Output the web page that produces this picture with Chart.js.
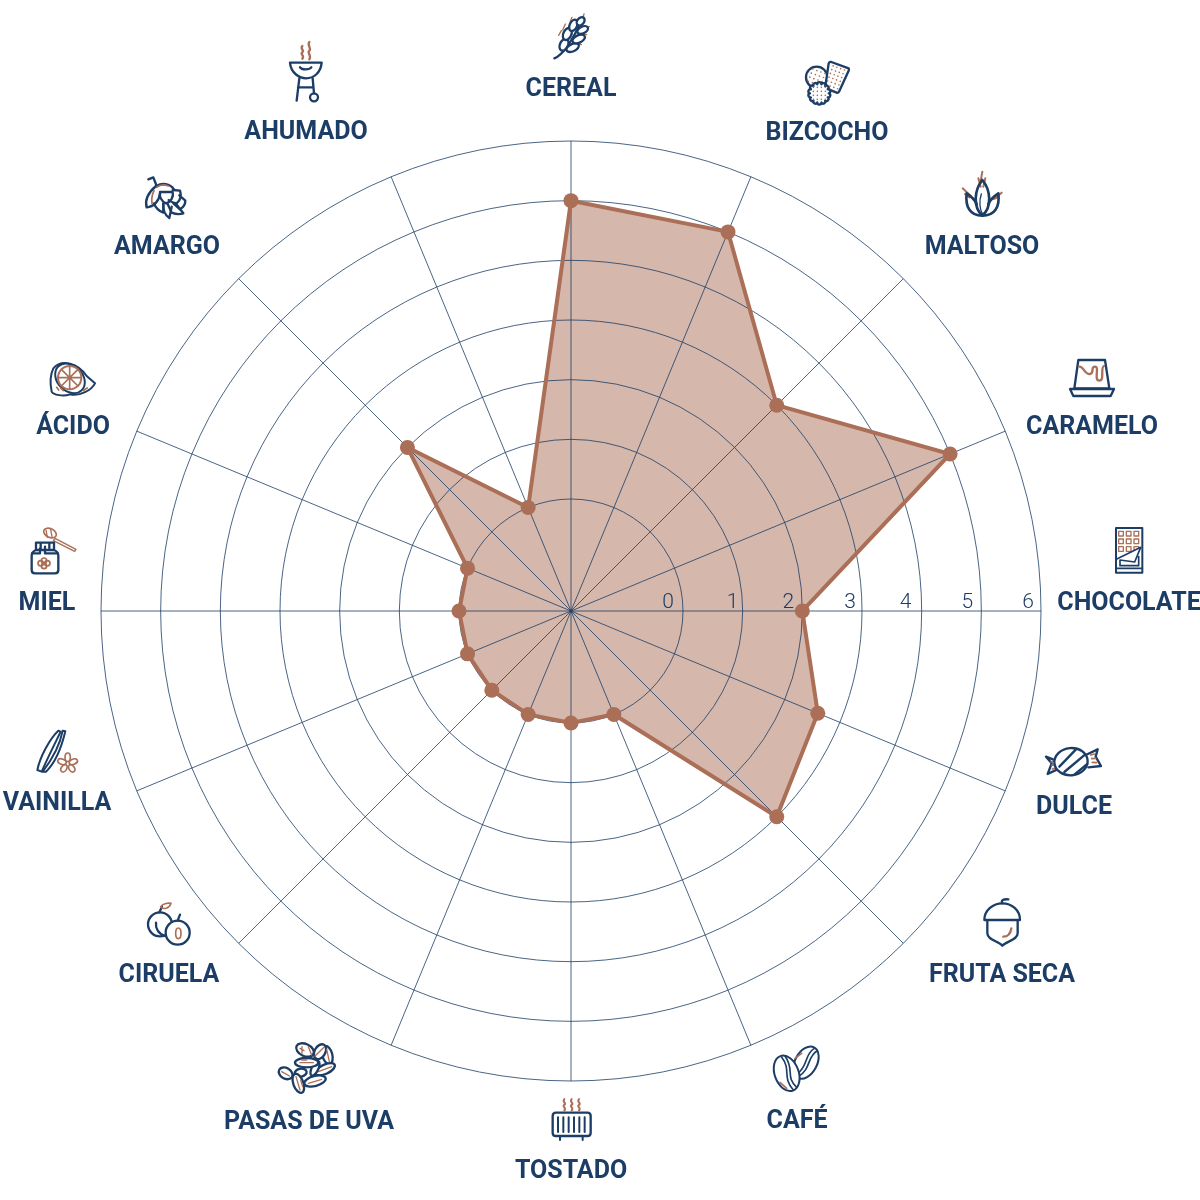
<!DOCTYPE html>
<html>
<head>
<meta charset="utf-8">
<title>Perfil de sabor</title>
<script src="https://cdn.jsdelivr.net/npm/chart.js@4"></script>
<style>
    html, body { margin: 0; padding: 0; background: #fff; }
    canvas { display: block; }
</style>
</head>
<body>
<canvas id="chart" width="1200" height="1200"></canvas>
<script>
// ----------------------
// Data
// ----------------------
const flavours = ["CEREAL", "BIZCOCHO", "MALTOSO", "CARAMELO", "CHOCOLATE", "DULCE", "FRUTA SECA", "CAFÉ",
    "TOSTADO", "PASAS DE UVA", "CIRUELA", "VAINILLA", "MIEL", "ÁCIDO", "AMARGO", "AHUMADO"];
const scores = [5, 5, 3, 5, 2, 2.6, 3, 0, 0, 0, 0, 0, 0, 0, 2, 0];
const tickValues = [0, 1, 2, 3, 4, 5, 6];

const NAVY = "#1c3d66";
const BROWN = "#ab6f58";

// label centres, relative to the chart centre
const labelOffsets = [[0, -521], [256, -477], [411, -363], [521, -183], [558, -7], [503, 197], [431, 365], [226, 511],
    [0, 561], [-262, 512], [-402, 365], [-514, 193], [-524, -7], [-498, -183], [-404, -363], [-265, -478]];
const tickNudge = [-15, -10, -14, -12, -16, -14, -13];

// ----------------------
// Icon helpers (paths are written at 3x, as read from zoomed crops)
// ----------------------
function ell(cx, cy, rx, ry, rot) {
    const a = (rot || 0) * Math.PI / 180;
    const dx = rx * Math.cos(a), dy = rx * Math.sin(a);
    return `M${cx - dx} ${cy - dy}A${rx} ${ry} ${rot || 0} 1 0 ${cx + dx} ${cy + dy}A${rx} ${ry} ${rot || 0} 1 0 ${cx - dx} ${cy - dy}Z`;
}
function scallop(cx, cy, r, n) {
    let d = "";
    for (let i = 0; i <= n; i++) {
        const a = i / n * Math.PI * 2;
        const x = cx + r * Math.cos(a), y = cy + r * Math.sin(a);
        d += i === 0 ? `M${x} ${y}` : `A6 6 0 0 1 ${x} ${y}`;
    }
    return d + "Z";
}
function dots(cx, cy, nx, ny, step, rot) {
    const a = (rot || 0) * Math.PI / 180;
    let d = "";
    for (let i = 0; i < nx; i++) {
        for (let j = 0; j < ny; j++) {
            const u = (i - (nx - 1) / 2) * step, v = (j - (ny - 1) / 2) * step;
            d += `M${cx + u * Math.cos(a) - v * Math.sin(a)} ${cy + u * Math.sin(a) + v * Math.cos(a)}h0.1`;
        }
    }
    return d;
}
function wiggle(x, y0, y1) {
    const m = (y0 + y1) / 2;
    return `M${x} ${y0}C${x - 8} ${y0 + 10} ${x + 8} ${m - 6} ${x} ${m}C${x - 8} ${m + 6} ${x + 8} ${y1 - 10} ${x} ${y1}`;
}

// one entry per drawing step: [path, stroke, width, fill]
const icons = [
    // CEREAL
    { x: 270, y: 10, ops: [
        ["M866 76L874 62M878 60L886 42M900 36L906 22M938 24L942 12M958 50L945 52M950 74L935 72M934 104L922 100", BROWN, 4],
        ["M853 145C880 135 905 95 935 32", NAVY, 7],
        [ell(882, 104, 19, 12, -65), NAVY, 7, "#fff"],
        [ell(892, 72, 19, 12, -65), NAVY, 7, "#fff"],
        [ell(910, 46, 18, 11, -65), NAVY, 7, "#fff"],
        [ell(908, 113, 20, 11, -25), NAVY, 7, "#fff"],
        [ell(926, 87, 20, 11, -25), NAVY, 7, "#fff"],
        [ell(938, 60, 17, 10, -25), NAVY, 7, "#fff"],
        [ell(932, 34, 14, 10, -50), NAVY, 7, "#fff"]
    ] },
    // BIZCOCHO
    { x: 790, y: 50, ops: [
        [ell(80, 82, 32, 32, 0), NAVY, 7, "#fff"],
        [dots(80, 82, 4, 4, 13, 20), BROWN, 5],
        ["M124 36L176 55Q178 58 176 62L147 125Q144 130 140 128L110 116Q105 114 106 110L116 40Q118 35 124 36Z", NAVY, 7, "#fff"],
        [dots(136, 82, 4, 6, 12, 20), BROWN, 5],
        [scallop(88, 130, 28, 14), NAVY, 7, "#fff"],
        [dots(88, 130, 4, 4, 12, 0), BROWN, 5]
    ] },
    // MALTOSO
    { x: 790, y: 50, ops: [
        ["M577 365L570 405M565 385L572 410M586 385L580 410M518 415L542 438M525 432L538 442M635 428L612 447M625 442L610 447", BROWN, 6],
        ["M577 497C540 497 525 470 530 430C545 440 555 450 560 462M577 497C615 497 630 470 625 430C610 440 600 450 595 462", NAVY, 8],
        ["M577 497C548 470 553 420 577 390C602 420 607 470 577 497Z", NAVY, 8],
        ["M574 432C566 455 570 480 577 490", NAVY, 4]
    ] },
    // CARAMELO
    { x: 1040, y: 350, ops: [
        ["M115 30H195L208 115H103Z", NAVY, 7],
        ["M90 117H222L212 138H100Z", NAVY, 7],
        ["M118 50C130 48 135 75 150 72C165 70 150 50 165 50C180 50 160 92 178 92C195 92 180 52 192 48", BROWN, 7]
    ] },
    // CHOCOLATE
    { x: 1040, y: 350, ops: [
        ["M236 544h14v14h-14ZM259 544h14v14h-14ZM282 544h14v14h-14ZM236 567h14v14h-14ZM259 567h14v14h-14ZM282 567h14v14h-14ZM236 590h14v14h-14ZM259 590h14v14h-14ZM282 590h14v10h-14Z", BROWN, 4],
        ["M229 628L302 592L284 636L240 630V647H296V620", NAVY, 5, "#fff"],
        ["M228 534H307V668H228Z", NAVY, 6],
        ["M228 655H307", NAVY, 5]
    ] },
    // DULCE
    { x: 970, y: 740, ops: [
        ["M258 62L228 50L245 70L233 102L262 88", NAVY, 7],
        ["M347 45L383 28L377 50L393 78L355 82", NAVY, 7],
        ["M243 66L255 62M245 76L258 72M247 87L260 83M362 45L373 42M365 56L377 55M367 67L380 68", BROWN, 5],
        [ell(303, 65, 50, 41, -5), NAVY, 7, "#fff"],
        ["M268 80L318 28M283 96L345 44M313 104L352 72", NAVY, 7]
    ] },
    // FRUTA SECA
    { x: 970, y: 740, ops: [
        ["M43 540C43 510 70 490 97 490C125 490 150 510 150 540Z", NAVY, 7],
        ["M97 490C92 480 100 477 115 478", NAVY, 7],
        ["M52 542V580C52 600 85 603 97 617C110 603 143 600 143 580V542", NAVY, 7],
        ["M100 590C115 590 122 578 124 565", BROWN, 7]
    ] },
    // CAFÉ
    { x: 530, y: 1040, ops: [
        [ell(828, 68, 33, 52, 28), NAVY, 6, "#fff"],
        ["M862 32C830 50 845 85 805 110M852 26C822 45 835 80 800 103", NAVY, 5],
        ["M795 55L815 40", BROWN, 5],
        [ell(770, 100, 36, 55, -20), NAVY, 6, "#fff"],
        ["M755 52C785 90 755 110 790 150M765 48C795 90 765 110 800 142", NAVY, 5],
        ["M750 127L770 145", BROWN, 5]
    ] },
    // TOSTADO
    { x: 530, y: 1040, ops: [
        ["M78 218H172Q182 218 182 228V278Q182 288 172 288H78Q68 288 68 278V228Q68 218 78 218Z", NAVY, 7],
        ["M84 232V276M100 232V276M116 232V276M132 232V276M148 232V276M164 232V276M90 288V300M158 288V300", NAVY, 6],
        [wiggle(103, 177, 212), BROWN, 6],
        [wiggle(125, 177, 212), BROWN, 6],
        [wiggle(147, 177, 212), BROWN, 6]
    ] },
    // PASAS DE UVA
    { x: 130, y: 890, ops: [
        [ell(525, 480, 28, 18, 25), NAVY, 7, "#fff"],
        ["M510 475L522 482M516 470V490M535 470L545 495", BROWN, 4],
        [ell(592, 495, 15, 28, -15), NAVY, 7, "#fff"],
        [ell(570, 485, 16, 24, 30), NAVY, 7, "#fff"],
        ["M555 498L582 472M590 478L598 515", BROWN, 4],
        [ell(467, 550, 22, 16, 30), NAVY, 7, "#fff"],
        ["M455 545L478 558", BROWN, 4],
        [ell(585, 538, 32, 14, -25), NAVY, 7, "#fff"],
        ["M565 545L605 530", BROWN, 4],
        [ell(512, 548, 18, 12, -10), NAVY, 7, "#fff"],
        [ell(555, 535, 10, 24, 25), NAVY, 7, "#fff"],
        [ell(530, 518, 35, 14, 0), NAVY, 7, "#fff"],
        ["M510 518H550M515 510H530", BROWN, 4],
        [ell(505, 580, 15, 30, -20), NAVY, 7, "#fff"],
        ["M498 560L510 600M512 570L518 590", BROWN, 4],
        [ell(555, 573, 33, 15, -15), NAVY, 7, "#fff"],
        ["M535 580L575 568", BROWN, 4]
    ] },
    // CIRUELA
    { x: 130, y: 890, ops: [
        [ell(90, 103, 36, 36, 0), NAVY, 7],
        ["M78 98C76 115 85 132 105 138M88 67L96 50", NAVY, 7],
        ["M92 50C100 40 115 38 123 40C118 56 100 60 92 50Z", BROWN, 5],
        [ell(143, 128, 36, 36, 0), NAVY, 7, "#fff"],
        ["M143 92L150 74", NAVY, 7],
        [ell(145, 130, 8, 16, 0), BROWN, 5]
    ] },
    // VAINILLA
    { x: 20, y: 720, ops: [
        ["M52 150C60 110 90 55 115 32L122 35C105 70 80 120 65 155Z", NAVY, 6],
        ["M68 155C95 120 120 75 128 32L136 34C125 80 105 130 78 155Z", NAVY, 6],
        [ell(143, 112, 8, 13, 0), BROWN, 5],
        [ell(126, 125, 8, 13, -70), BROWN, 5],
        [ell(160, 125, 8, 13, 70), BROWN, 5],
        [ell(132, 145, 8, 12, 35), BROWN, 5],
        [ell(155, 145, 8, 12, -35), BROWN, 5]
    ] },
    // MIEL
    { x: 20, y: 350, ops: [
        ["M105 565L168 598L164 604L100 572Z", BROWN, 4],
        [ell(90, 549, 20, 13, 25), BROWN, 5, "#fff"],
        ["M78 540L82 562M92 538L96 560", BROWN, 4],
        ["M48 600H102Q115 605 115 618V660Q115 670 105 670H45Q35 670 35 660V618Q35 605 48 600Z", NAVY, 7],
        ["M48 600V578H102V600M36 610H60V595M75 590V610H114M62 578V600M88 578V595", NAVY, 7],
        [ell(72, 632, 8, 8, 0), BROWN, 5],
        [ell(72, 648, 8, 8, 0), BROWN, 5],
        [ell(62, 640, 8, 8, 0), BROWN, 5],
        [ell(82, 640, 8, 8, 0), BROWN, 5]
    ] },
    // ÁCIDO
    { x: 20, y: 350, ops: [
        ["M100 55C125 25 175 40 200 78L225 100C215 120 180 140 150 133C130 140 100 135 95 125C90 100 90 75 100 55Z", NAVY, 6],
        [ell(150, 85, 50, 38, 45), NAVY, 6, "#fff"],
        [ell(149, 83, 35, 35, 0), BROWN, 6],
        ["M149 48V118M114 83H184M124 58L174 108M174 58L124 108", BROWN, 5],
        ["M110 112L116 120M122 114L130 122M190 122L202 114", BROWN, 5]
    ] },
    // AMARGO
    { x: 130, y: 170, ops: [
        ["M55 28L70 22L80 48", NAVY, 7],
        ["M80 48C95 38 120 40 132 58", NAVY, 7],
        ["M78 48C52 70 44 90 50 112C72 110 88 92 90 70", NAVY, 7],
        ["M90 66H128C132 82 122 95 108 100C95 94 88 82 90 66Z", NAVY, 7],
        ["M128 60L150 62C156 80 150 92 140 100C130 98 118 92 116 90", NAVY, 7],
        ["M148 76L166 92C166 102 160 112 150 118L130 100", NAVY, 7],
        ["M140 104L160 130C148 134 135 132 125 128L112 100", NAVY, 7],
        ["M125 110L118 144C105 135 98 122 100 100", NAVY, 7],
        ["M100 100L100 128C88 125 76 112 72 100", NAVY, 7],
        ["M80 52C90 44 105 44 115 48M72 62C66 75 64 88 66 100", BROWN, 5]
    ] },
    // AHUMADO
    { x: 270, y: 10, ops: [
        ["M60 158H155C152 190 130 205 108 205C90 205 62 190 60 158Z", NAVY, 7],
        ["M90 172C95 180 118 180 124 172M88 205L80 272M128 205L132 250M84 232H130", NAVY, 7],
        [ell(132, 262, 12, 12, 0), NAVY, 7],
        [wiggle(97, 108, 146), BROWN, 7],
        [wiggle(118, 96, 148), BROWN, 7]
    ] }
];

// ----------------------
// Labels, tick numbers and icons
// ----------------------
const labelPlugin = {
    id: "labelPlugin",
    afterDraw(chart) {
        const ctx = chart.ctx;
        const scale = chart.scales.r;

        ctx.save();
        ctx.textAlign = "center";
        ctx.textBaseline = "middle";

        ctx.fillStyle = NAVY;
        ctx.font = "300 21px Roboto";
        tickValues.forEach((v, i) => {
            const x = scale.xCenter + scale.getDistanceFromCenterForValue(v) + tickNudge[i];
            ctx.fillText(String(v), x, scale.yCenter - 8);
        });

        ctx.font = "bold 25px Roboto";
        flavours.forEach((name, i) => {
            ctx.fillText(name, scale.xCenter + labelOffsets[i][0], scale.yCenter + labelOffsets[i][1]);
        });
        ctx.restore();

        icons.forEach(icon => {
            ctx.save();
            ctx.translate(icon.x, icon.y);
            ctx.scale(1 / 3, 1 / 3);
            ctx.lineCap = "round";
            ctx.lineJoin = "round";
            icon.ops.forEach(op => {
                const p = new Path2D(op[0]);
                if (op[3]) {
                    ctx.fillStyle = op[3];
                    ctx.fill(p);
                }
                ctx.strokeStyle = op[1];
                ctx.lineWidth = op[2];
                ctx.stroke(p);
            });
            ctx.restore();
        });
    }
};

// ----------------------
// Chart
// ----------------------
const centreValue = -1.877; // the 0 ring sits well away from the centre

new Chart(document.getElementById("chart").getContext("2d"), {
    type: "radar",
    data: {
        labels: flavours,
        datasets: [{
            data: scores,
            borderColor: BROWN,
            borderWidth: 4,
            backgroundColor: "rgba(171, 111, 88, 0.5)",
            pointBackgroundColor: BROWN,
            pointBorderColor: BROWN,
            pointBorderWidth: 0,
            pointRadius: 7.5,
            fill: "start",
            tension: 0
        }]
    },
    options: {
        responsive: false,
        animation: false,
        layout: { padding: { left: 101, right: 159, top: 141, bottom: 119 } },
        plugins: {
            legend: { display: false },
            tooltip: { enabled: false },
            filler: { drawTime: "beforeDraw" } // keeps the grid dark on top of the fill
        },
        scales: {
            r: {
                min: centreValue,
                max: 6,
                afterBuildTicks(scale) {
                    scale.ticks = [centreValue].concat(tickValues).map(v => ({ value: v }));
                },
                ticks: { display: false },
                pointLabels: { display: false },
                grid: { circular: true, color: NAVY, lineWidth: 0.8 },
                angleLines: { color: NAVY, lineWidth: 0.8 }
            }
        }
    },
    plugins: [labelPlugin]
});
</script>
</body>
</html>
